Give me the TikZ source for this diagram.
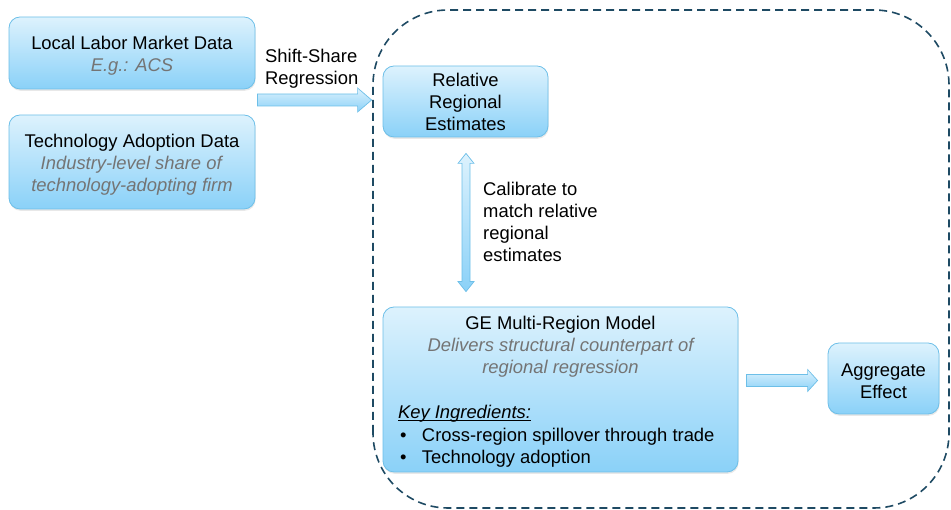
\documentclass[tikz,border=0pt]{standalone}
\usepackage{fontspec}
\setmainfont{Liberation Sans}
\usetikzlibrary{calc,shadows}
\definecolor{boxtop}{HTML}{DDF2FD}
\definecolor{boxbot}{HTML}{8AD1F8}
\definecolor{boxline}{HTML}{6DBFE8}
\definecolor{subgray}{HTML}{747474}
\definecolor{dashcol}{HTML}{1E4A63}
\newcommand\mainfs{\fontsize{18.4}{22}\selectfont}
\newcommand\subtxt[1]{\textcolor{subgray}{\textit{#1}}}
\newcommand\myul[1]{\leavevmode\setbox0\hbox{#1}\rlap{\rule[-2.2pt]{\wd0}{0.8pt}}\box0}
\newcommand\topstrut[1]{\rule{0pt}{#1}}
\tikzset{
  databox/.style={draw=boxline, line width=0.8pt, rounded corners=11pt,
    top color=boxtop, bottom color=boxbot,
    drop shadow={opacity=0.18, shadow xshift=0.6pt, shadow yshift=-1.8pt},
    align=center, inner sep=0pt, font=\mainfs},
  blockarr/.style={draw=boxline, line width=0.7pt, line join=miter,
    top color=boxtop, bottom color=boxbot},
  plaintext/.style={inner sep=0pt, align=left, font=\mainfs, anchor=north west},
  groupbox/.style={draw=dashcol, line width=1.6pt, dash pattern=on 8pt off 5pt,
    rounded corners=75pt}
}
\newcommand\rblockarrow[5]{%
  \path[blockarr] let \p1=(#1), \p2=(#2) in
    (\x1,\y1+#3pt) -- (\x2-#5pt,\y1+#3pt) -- (\x2-#5pt,\y1+#4pt) -- (\x2,\y1)
    -- (\x2-#5pt,\y1-#4pt) -- (\x2-#5pt,\y1-#3pt) -- (\x1,\y1-#3pt) -- cycle;}
\begin{document}
\begin{tikzpicture}[x=1pt,y=1pt]
\useasboundingbox (0,0) rectangle (951,510);

% dashed group
\draw[groupbox] (373,2) rectangle (949,500);

% boxes
\node[databox, minimum width=246pt, minimum height=72pt] (b1) at (132,457)
  {\topstrut{19.5pt}Local Labor Market Data\\ \subtxt{E.g.: ACS}};
\node[databox, minimum width=246pt, minimum height=94pt] (b2) at (132,348)
  {\topstrut{19.5pt}Technology Adoption Data\\ \subtxt{Industry-level share of}\\ \subtxt{technology-adopting firm}};
\node[databox, minimum width=165pt, minimum height=71pt] (b3) at (465.5,408.5)
  {Relative\\ Regional\\ Estimates};
\node[databox, minimum width=355pt, minimum height=165pt] (b4) at (560.5,120.5)
  {\begin{minipage}{325pt}\fontsize{18.4}{22.4}\selectfont\centering
   \topstrut{17.5pt}GE Multi-Region Model\par
   {\itshape\color{subgray}Delivers structural counterpart of\\ regional regression\par}
   \vspace{22.4pt}\raggedright
   \myul{\itshape Key Ingredients:}\par
   \hspace{2pt}\makebox[22pt][l]{\textbullet}Cross-region spillover through trade\par
   \hspace{2pt}\makebox[22pt][l]{\textbullet}Technology adoption
   \end{minipage}};
\node[databox, minimum width=111pt, minimum height=71pt] (b5) at (883.5,131.5)
  {\topstrut{17.5pt}Aggregate\\ Effect};

% labels
\node[plaintext] (lshift) at (265,461) {Shift-Share\\ Regression};
\node[plaintext] (lcal) at (483,328) {Calibrate to\\ match relative\\ regional\\ estimates};

% arrows
\coordinate (a1s) at ($(b1.east)+(2,-47)$);
\coordinate (a1e) at ($(b3.west)+(-11,1.5)$);
\rblockarrow{a1s}{a1e}{6}{12}{14}
\coordinate (a2s) at ($(b4.east)+(8,9)$);
\coordinate (a2e) at ($(b5.west)+(-10,-2)$);
\rblockarrow{a2s}{a2e}{6}{11}{10}
\coordinate (vt) at ($(b3.south)+(0.5,-16)$);
\coordinate (vb) at ($(b3.south |- b4.north)+(0.5,15)$);
\path[blockarr] let \p1=(vt), \p2=(vb) in
  (\x1,\y1) -- (\x1+8pt,\y1-10pt) -- (\x1+4pt,\y1-10pt) -- (\x1+4pt,\y2+10pt)
  -- (\x1+8pt,\y2+10pt) -- (\x1,\y2) -- (\x1-8pt,\y2+10pt) -- (\x1-4pt,\y2+10pt)
  -- (\x1-4pt,\y1-10pt) -- (\x1-8pt,\y1-10pt) -- cycle;
\end{tikzpicture}
\end{document}
